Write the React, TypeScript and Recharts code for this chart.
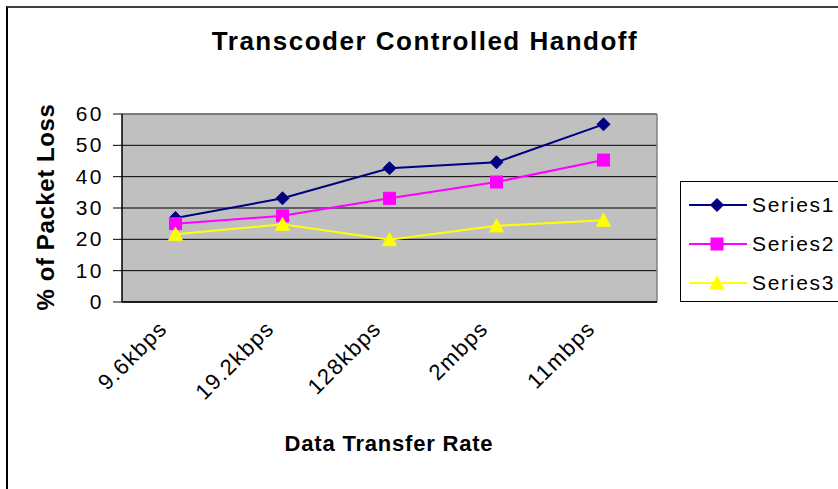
import { CartesianGrid, Line, LineChart, ReferenceLine, XAxis, YAxis } from 'recharts';

const categories = ['9.6kbps', '19.2kbps', '128kbps', '2mbps', '11mbps'];
const series1 = [26.8, 33.1, 42.7, 44.6, 56.7];
const series2 = [25.0, 27.5, 33.1, 38.3, 45.3];
const series3 = [21.6, 24.8, 19.9, 24.3, 26.1];
const yTicks = [0, 10, 20, 30, 40, 50, 60];
const edgeTicks = [0, 1, 2, 3, 4, 5];

const FONT = '"Liberation Sans", Arial, sans-serif';

const seriesList = [
   { key: 's1', name: 'Series1', color: '#000080', marker: 'diamond' },
   { key: 's2', name: 'Series2', color: '#FF00FF', marker: 'square' },
   { key: 's3', name: 'Series3', color: '#FFFF00', marker: 'triangle' },
];

const data = categories.map((name, i) => ({
   pos: i + 0.5,
   name,
   s1: series1[i],
   s2: series2[i],
   s3: series3[i],
}));

function Marker({ kind, cx, cy, color }: { kind: string; cx: number; cy: number; color: string }) {
   if (kind === 'diamond') {
      const r = 6.5;
      return (
         <polygon
            points={`${cx},${cy - r} ${cx + r},${cy} ${cx},${cy + r} ${cx - r},${cy}`}
            fill={color}
            stroke={color}
         />
      );
   }
   if (kind === 'square') {
      return <rect x={cx - 6} y={cy - 6} width={12} height={12} fill={color} stroke={color} />;
   }
   return (
      <polygon
         points={`${cx},${cy - 7} ${cx + 7},${cy + 6} ${cx - 7},${cy + 6}`}
         fill={color}
         stroke={color}
      />
   );
}

function YTick({ x, y, payload }: any) {
   return (
      <text x={x} y={y} dy={7} textAnchor="end" fontSize={21} fontFamily={FONT} fill="#000" letterSpacing={2.5}>
         {payload.value}
      </text>
   );
}

function CatTick({ x, y, payload }: any) {
   const label = categories[Math.floor(payload.value)];
   return (
      <g transform={`translate(${x - 12},${y + 6})`}>
         <text
            x={0}
            y={0}
            dy={7}
            textAnchor="end"
            transform="rotate(-45)"
            fontSize={22}
            fontFamily={FONT}
            fill="#000"
            letterSpacing={1.4}
         >
            {label}
         </text>
      </g>
   );
}

function LegendBox() {
   return (
      <div
         style={{
            position: 'absolute',
            left: 680,
            top: 181,
            width: 170,
            border: '1px solid #000',
            borderRight: 'none',
            height: 121,
            paddingTop: 3,
            boxSizing: 'border-box',
            background: '#fff',
         }}
      >
         {seriesList.map((s) => (
            <div key={s.key} style={{ display: 'flex', alignItems: 'center', height: 39 }}>
               <svg width={58} height={20} style={{ marginLeft: 8 }}>
                  <line x1={0} y1={10} x2={58} y2={10} stroke={s.color} strokeWidth={2} />
                  <Marker kind={s.marker} cx={28} cy={10} color={s.color} />
               </svg>
               <span style={{ marginLeft: 5, fontSize: 21, fontFamily: FONT, letterSpacing: 1.7, color: '#000' }}>
                  {s.name}
               </span>
            </div>
         ))}
      </div>
   );
}

export default function App() {
   return (
      <div
         style={{
            position: 'absolute',
            left: 0,
            top: 0,
            width: 838,
            height: 489,
            overflow: 'hidden',
            background: '#fff',
            fontFamily: FONT,
         }}
      >
         <div
            style={{
               position: 'absolute',
               left: 6,
               top: 6,
               width: 900,
               height: 600,
               borderLeft: '2px solid #000',
               borderTop: '2px solid #404040',
            }}
         />
         <div
            style={{
               position: 'absolute',
               left: 0,
               top: 26,
               width: 850,
               textAlign: 'center',
               fontSize: 26,
               fontWeight: 'bold',
               letterSpacing: 1.5,
            }}
         >
            Transcoder Controlled Handoff
         </div>
         <div
            style={{
               position: 'absolute',
               left: 46,
               top: 207,
               transform: 'translate(-50%, -50%) rotate(-90deg)',
               whiteSpace: 'nowrap',
               fontSize: 24,
               fontWeight: 'bold',
               letterSpacing: 0.6,
            }}
         >
            % of Packet Loss
         </div>
         <div
            style={{
               position: 'absolute',
               left: 389,
               top: 444,
               transform: 'translate(-50%, -50%)',
               whiteSpace: 'nowrap',
               fontSize: 22,
               fontWeight: 'bold',
               letterSpacing: 0.8,
            }}
         >
            Data Transfer Rate
         </div>
         <div style={{ position: 'absolute', left: 0, top: 0 }}>
            <LineChart width={838} height={489} data={data} margin={{ top: 114, right: 181, bottom: 108, left: 62 }}>
               <CartesianGrid
                  xAxisId="edges"
                  vertical={false}
                  stroke="#000"
                  fill="#C0C0C0"
                  fillOpacity={1}
               />
               <XAxis
                  xAxisId="edges"
                  type="number"
                  dataKey="pos"
                  domain={[0, 5]}
                  ticks={edgeTicks}
                  tick={false}
                  tickSize={9}
                  height={9}
                  axisLine={{ stroke: '#000', strokeWidth: 1.5 }}
                  tickLine={{ stroke: '#000' }}
               />
               <XAxis
                  xAxisId="labels"
                  type="number"
                  dataKey="pos"
                  domain={[0, 5]}
                  ticks={data.map((d) => d.pos)}
                  axisLine={false}
                  tickLine={false}
                  height={70}
                  tick={<CatTick />}
                  interval={0}
               />
               <YAxis
                  type="number"
                  domain={[0, 60]}
                  ticks={yTicks}
                  width={60}
                  tickSize={9}
                  tickMargin={9}
                  axisLine={{ stroke: '#000', strokeWidth: 1.5 }}
                  tickLine={{ stroke: '#000' }}
                  tick={<YTick />}
                  interval={0}
               />
               <ReferenceLine xAxisId="edges" y={60} stroke="#808080" strokeWidth={1.5} />
               <ReferenceLine xAxisId="edges" x={5} stroke="#808080" strokeWidth={1.5} />
               {seriesList.map((s) => (
                  <Line
                     key={s.key}
                     xAxisId="edges"
                     type="linear"
                     dataKey={s.key}
                     name={s.name}
                     stroke={s.color}
                     strokeWidth={2}
                     isAnimationActive={false}
                     dot={(p: any) => (
                        <Marker key={`${s.key}-${p.index}`} kind={s.marker} cx={p.cx} cy={p.cy} color={s.color} />
                     )}
                     activeDot={false}
                  />
               ))}
            </LineChart>
         </div>
         <LegendBox />
      </div>
   );
}
